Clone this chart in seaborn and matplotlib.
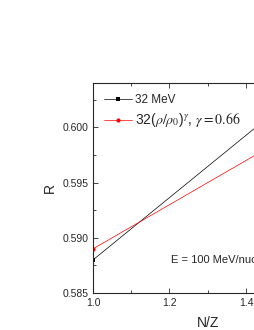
import matplotlib
matplotlib.use("Agg")
import matplotlib.pyplot as plt
import seaborn as sns
import pandas as pd
from matplotlib.ticker import MultipleLocator

nz = [1.0, 1.5]
r_32mev = [0.5880, 0.6021]
r_density = [0.5890, 0.5990]
label_a = "32 MeV"
label_b = r"32($\rho/\rho_{\rm 0}$)$^{\gamma}$, $\gamma = 0.66$"

sns.set_style("ticks")
plt.rcParams['font.family'] = ['Liberation Sans', 'DejaVu Sans']
plt.rcParams['mathtext.fontset'] = 'stix'

fig = plt.figure(figsize=(2.55, 3.3), dpi=100)
ax = fig.add_axes([0.3647, 0.112, 0.9, 0.636])

df = pd.DataFrame({"nz": nz + nz,
                   "R": r_32mev + r_density,
                   "s": [label_a] * len(nz) + [label_b] * len(nz)})
sns.lineplot(data=df, x="nz", y="R", hue="s", style="s",
             palette={label_a: "black", label_b: "red"},
             markers={label_a: "s", label_b: "o"}, dashes=False,
             markersize=3, linewidth=0.5, markeredgewidth=0, ax=ax)

ax.set_xlim(1.0, 1.6)
ax.set_ylim(0.585, 0.604)
ax.xaxis.set_major_locator(MultipleLocator(0.2))
ax.xaxis.set_minor_locator(MultipleLocator(0.1))
ax.yaxis.set_major_locator(MultipleLocator(0.005))
ax.yaxis.set_minor_locator(MultipleLocator(0.0025))
ax.xaxis.set_major_formatter(matplotlib.ticker.FormatStrFormatter('%.1f'))
ax.yaxis.set_major_formatter(matplotlib.ticker.FormatStrFormatter('%.3f'))
ax.tick_params(which='both', direction='in', top=True, right=True, labelsize=7.5, width=0.6)
ax.tick_params(which='major', length=3.5)
ax.tick_params(which='minor', length=2)
for sp in ax.spines.values():
    sp.set_linewidth(0.8)
ax.set_xlabel("N/Z", fontsize=10, labelpad=6)
ax.set_ylabel("R", fontsize=10, labelpad=4)
ax.text(1.205, 0.5880, "E = 100 MeV/nucleon", fontsize=8, va='center', ha='left')

leg = ax.legend(loc='upper left', frameon=False, fontsize=8.5, handlelength=2.4,
                handletextpad=0.3, borderaxespad=0.5, labelspacing=0.45)
for t in leg.get_texts():
    if "gamma" in t.get_text():
        t.set_fontsize(10)

fig.savefig("out.png", dpi=100)
